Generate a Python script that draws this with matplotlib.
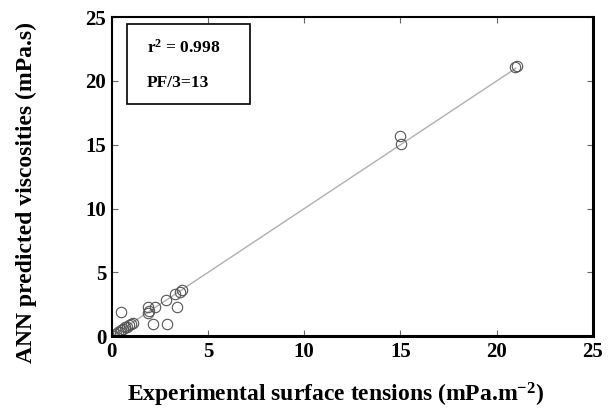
import numpy as np
import matplotlib.pyplot as plt
from matplotlib.patches import Rectangle

# experimental vs ANN predicted values
exp_vals = [0.10, 0.20, 0.30, 0.40, 0.50, 0.60, 0.70, 0.80, 0.90, 1.00, 1.10,
            0.50, 1.89, 1.94, 2.23, 2.15, 2.84, 2.81, 3.40, 3.27, 3.53, 3.62,
            1.89, 14.97, 15.02, 20.95, 21.05]
ann_vals = [0.05, 0.15, 0.30, 0.35, 0.45, 0.55, 0.70, 0.75, 0.85, 0.95, 1.05,
            1.86, 2.30, 1.96, 2.25, 0.95, 0.95, 2.82, 2.30, 3.30, 3.50, 3.60,
            1.80, 15.65, 15.05, 21.10, 21.20]
fit_x = [0, 21]
fit_y = [0, 21]

plt.rcParams['font.family'] = ['Liberation Serif', 'DejaVu Serif']
plt.rcParams['font.weight'] = 'bold'
plt.rcParams['mathtext.fontset'] = 'custom'
plt.rcParams['mathtext.rm'] = 'Liberation Serif:bold'
plt.rcParams['mathtext.bf'] = 'Liberation Serif:bold'
plt.rcParams['mathtext.default'] = 'bf'

fig = plt.figure(figsize=(6.08, 4.09), dpi=100)
ax = fig.add_axes([0.184, 0.178, 0.791, 0.780])

ax.plot(fit_x, fit_y, color='#b0b0b0', linewidth=1.0, zorder=1)
ax.plot(exp_vals, ann_vals, linestyle='none', marker='o', markersize=7.5,
        markerfacecolor='none', markeredgecolor='#555555', markeredgewidth=0.8, zorder=2)

ax.set_xlim(0, 25)
ax.set_ylim(0, 25)
ax.set_xticks([0, 5, 10, 15, 20, 25])
ax.set_yticks([0, 5, 10, 15, 20, 25])
ax.tick_params(direction='in', length=4, width=0.8, top=True, right=True,
               labelsize=15, pad=4, color='#666666')
for lab in ax.get_xticklabels() + ax.get_yticklabels():
    lab.set_fontweight('bold')

for side in ['left', 'bottom', 'top']:
    ax.spines[side].set_linewidth(1.5)
ax.spines['right'].set_linewidth(2.2)
ax.spines['bottom'].set_linewidth(2.2)

ax.set_xlabel('Experimental surface tensions (mPa.m$^{-2}$)', fontsize=17,
              fontweight='bold')
ax.xaxis.set_label_coords(0.466, -0.14)
ax.set_ylabel('ANN predicted viscosities (mPa.s)', fontsize=17, fontweight='bold')
ax.yaxis.set_label_coords(-0.155, 0.45)

ax.add_patch(Rectangle((0.031, 0.727), 0.256, 0.251, transform=ax.transAxes,
                       facecolor='white', edgecolor='black', linewidth=1.2, zorder=3))
ax.text(0.073, 0.903, 'r$^{2}$ = 0.998', transform=ax.transAxes, fontsize=12.5,
        fontweight='bold', va='center', ha='left', zorder=4)
ax.text(0.073, 0.793, 'PF/3=13', transform=ax.transAxes, fontsize=12.5,
        fontweight='bold', va='center', ha='left', zorder=4)

plt.savefig('out.png', dpi=100)
